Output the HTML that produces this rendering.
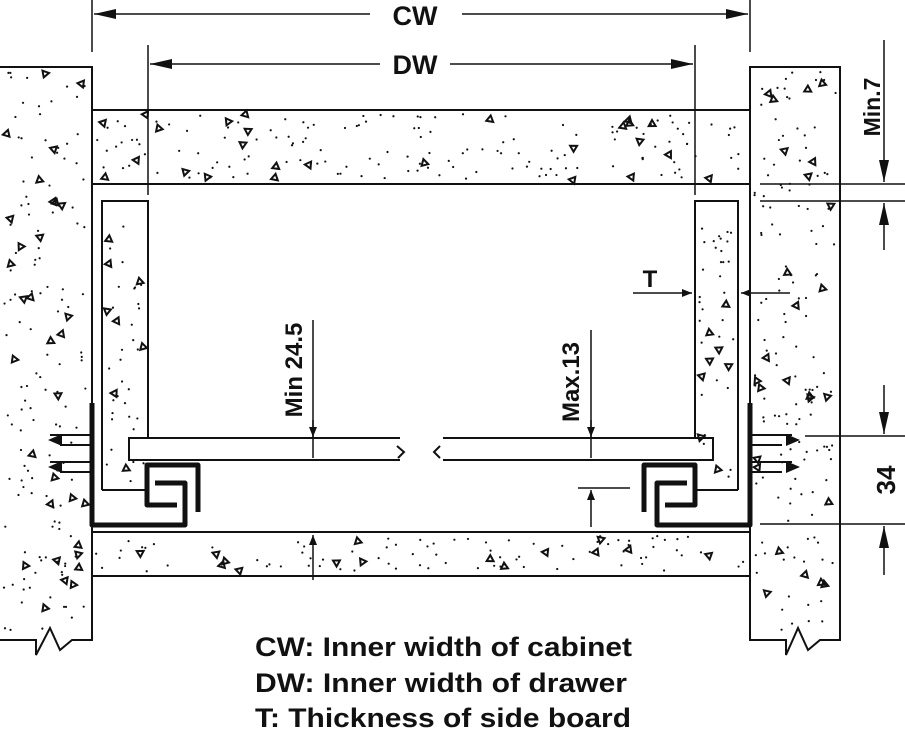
<!DOCTYPE html>
<html><head><meta charset="utf-8"><style>
html,body{margin:0;padding:0;background:#fff;width:905px;height:730px;overflow:hidden}
svg{display:block}
text{font-family:"Liberation Sans",Arial,sans-serif;font-weight:bold;fill:#111}
</style></head><body>
<svg id="s" width="905" height="730" viewBox="0 0 905 730" xmlns="http://www.w3.org/2000/svg">
<defs>
<marker id="a" markerWidth="10" markerHeight="8" refX="10" refY="4" orient="auto" markerUnits="userSpaceOnUse"><path d="M0,0 L10,4 L0,8 z" fill="#111"/></marker>
<marker id="b" markerWidth="22" markerHeight="10" refX="22" refY="5" orient="auto" markerUnits="userSpaceOnUse"><path d="M0,0 L22,5 L0,10 z" fill="#111"/></marker>
</defs>
<g id="tex"></g>
<g fill="none" stroke="#111" stroke-width="2">
<path d="M0,67 H92 V640 H72 L60,650 L50,628 L36,655 V640 H0"/>
<path d="M750,67 H840 V640 H820 L808,650 L798,628 L786,655 V640 H750 Z"/>
<rect x="92" y="110" width="658" height="74"/>
<rect x="92" y="532" width="658" height="44"/>
<path d="M102,490 V201 H148 V438"/>
<path d="M738,490 V201 H695 V438"/>
<path d="M400,438 H129 V460 H400 M397,446 L404,452 L398,458"/>
<path d="M443,438 H713 V460 H443 M440,446 L434,452 L440,458"/>
<path d="M102,490 H147 M738,490 H697"/>
</g>
<g fill="none" stroke="#111" stroke-width="5" stroke-linejoin="round">
<path d="M92,403 V525 H185 V483 H155"/>
<path d="M177,505 H147 V465 H198 V512"/>
<path d="M750,403 V525 H657 V483 H687"/>
<path d="M665,505 H695 V465 H644 V512"/>
</g>
<g stroke="#111" stroke-width="2" fill="#fff">
<path d="M90,435 H50 M90,445 H60 M90,462 H50 M90,472 H60" />
<path d="M752,435 H792 M752,445 H782 M752,462 H792 M752,472 H782"/>
</g>
<path d="M48,440 L62,434 L62,446 Z M48,467 L62,461 L62,473 Z M800,440 L786,434 L786,446 Z M800,467 L786,461 L786,473 Z" fill="#111"/>
<g stroke="#111" stroke-width="1.5" fill="none">
<line x1="92" y1="0" x2="92" y2="52"/><line x1="750" y1="0" x2="750" y2="52"/>
<line x1="148" y1="45" x2="148" y2="195"/><line x1="695" y1="45" x2="695" y2="195"/>
<line x1="370" y1="14" x2="94" y2="14" marker-end="url(#b)"/>
<line x1="462" y1="14" x2="748" y2="14" marker-end="url(#b)"/>
<line x1="380" y1="64" x2="150" y2="64" marker-end="url(#b)"/>
<line x1="450" y1="64" x2="693" y2="64" marker-end="url(#b)"/>
<line x1="760" y1="184" x2="905" y2="184"/><line x1="760" y1="201" x2="905" y2="201"/>
<line x1="884" y1="40" x2="884" y2="182" marker-end="url(#b)"/>
<line x1="884" y1="250" x2="884" y2="203" marker-end="url(#b)"/>
<line x1="805" y1="436" x2="905" y2="436"/><line x1="760" y1="524" x2="905" y2="524"/>
<line x1="884" y1="385" x2="884" y2="434" marker-end="url(#b)"/>
<line x1="884" y1="575" x2="884" y2="526" marker-end="url(#b)"/>
<line x1="633" y1="293" x2="692" y2="293" marker-end="url(#a)"/>
<line x1="790" y1="293" x2="741" y2="293" marker-end="url(#a)"/>
<line x1="313" y1="320" x2="313" y2="458"/>
<line x1="313" y1="420" x2="313" y2="437" marker-end="url(#a)"/>
<line x1="313" y1="580" x2="313" y2="535" marker-end="url(#a)"/>
<line x1="591" y1="330" x2="591" y2="458"/>
<line x1="591" y1="420" x2="591" y2="437" marker-end="url(#a)"/>
<line x1="591" y1="527" x2="591" y2="490" marker-end="url(#a)"/>
<line x1="578" y1="488" x2="630" y2="488"/>
</g>
<text x="415" y="25" font-size="27" text-anchor="middle">CW</text>
<text x="415" y="74" font-size="27" text-anchor="middle">DW</text>
<text x="650" y="287" font-size="24" text-anchor="middle">T</text>
<text transform="translate(880,107) rotate(-90)" font-size="23" text-anchor="middle">Min.7</text>
<text transform="translate(895,480) rotate(-90)" font-size="26" text-anchor="middle">34</text>
<text transform="translate(302,370) rotate(-90)" font-size="24" text-anchor="middle">Min 24.5</text>
<text transform="translate(579,382) rotate(-90)" font-size="24" text-anchor="middle">Max.13</text>
<text x="255" y="656" font-size="27" textLength="377" lengthAdjust="spacingAndGlyphs">CW: Inner width of cabinet</text>
<text x="255" y="692" font-size="27" textLength="372" lengthAdjust="spacingAndGlyphs">DW: Inner width of drawer</text>
<text x="255" y="727" font-size="27" textLength="376" lengthAdjust="spacingAndGlyphs">T: Thickness of side board</text>
</svg>
<script>
var g=document.getElementById('tex'),seed=7;
function r(){seed=(seed*16807)%2147483647;return seed/2147483647;}
var ns="http://www.w3.org/2000/svg";
function fill(x,y,w,h,n){for(var i=0;i<n;i++){var px=x+r()*w,py=y+r()*h;
 if(r()<0.85){var c=document.createElementNS(ns,'circle');c.setAttribute('cx',px);c.setAttribute('cy',py);c.setAttribute('r',1.1);c.setAttribute('fill','#111');g.appendChild(c);}
 else{var p=document.createElementNS(ns,'path');var a=r()*6.28,s=4;
 var d='M'+(px+s*Math.cos(a))+','+(py+s*Math.sin(a))+' L'+(px+s*Math.cos(a+2.1))+','+(py+s*Math.sin(a+2.1))+' L'+(px+s*Math.cos(a+4.2))+','+(py+s*Math.sin(a+4.2))+' Z';
 p.setAttribute('d',d);p.setAttribute('fill','none');p.setAttribute('stroke','#111');p.setAttribute('stroke-width','2');g.appendChild(p);}}}
fill(4,72,84,560,160);fill(754,72,82,560,160);fill(96,114,650,66,170);fill(96,536,650,36,95);
fill(106,205,38,280,40);fill(699,205,35,280,40);
</script>
</body></html>
